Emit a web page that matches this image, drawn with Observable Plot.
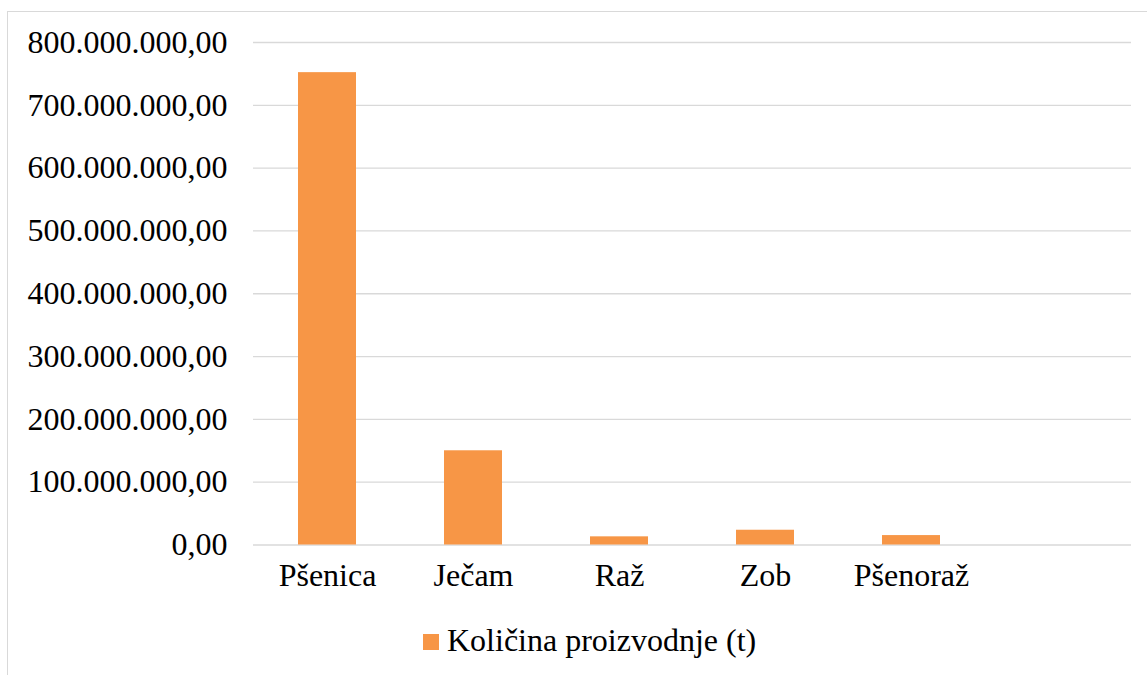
<!DOCTYPE html>
<html>
<head>
<meta charset="utf-8">
<script src="https://cdn.jsdelivr.net/npm/d3@7"></script>
<script src="https://cdn.jsdelivr.net/npm/@observablehq/plot@0.6"></script>
<style>
  html, body { margin: 0; padding: 0; background: #fff; }
  body { width: 1147px; height: 675px; overflow: hidden; position: relative; font-family: "Liberation Serif", "Times New Roman", serif; }
  #frame { position: absolute; left: 7px; top: 11px; width: 1160px; height: 700px; border-left: 1px solid #d9d9d9; border-top: 1px solid #d9d9d9; }
  #chart { position: absolute; left: 0; top: 0; }
  #legend { position: absolute; left: 423px; top: 622px; display: flex; align-items: center; font-size: 32px; color: #000; white-space: nowrap; }
  #legend .sw { width: 16px; height: 16px; background: #F79646; margin-right: 8px; margin-top: 3px; }
</style>
</head>
<body>
<div id="frame"></div>
<div id="chart"></div>
<div id="legend"><span class="sw"></span><span>Količina proizvodnje (t)</span></div>
<script>
const categories = ["Pšenica", "Ječam", "Raž", "Zob", "Pšenoraž", ""];
const values = [752000000, 150000000, 13000000, 23500000, 15000000];
const yTicks = [0, 100000000, 200000000, 300000000, 400000000, 500000000, 600000000, 700000000, 800000000];
const seriesName = "Količina proizvodnje (t)";

const data = values.map((v, i) => ({category: categories[i], value: v}));
const loc = d3.formatLocale({decimal: ",", thousands: ".", grouping: [3], currency: ["", ""]});
const fmt = loc.format(",.2f");
const font = "Liberation Serif, Times New Roman, serif";

const chart = Plot.plot({
  width: 1147,
  height: 610,
  marginLeft: 253,
  marginRight: 16,
  marginTop: 42,
  marginBottom: 65.5,
  x: {domain: categories, paddingInner: 0.6, paddingOuter: 0.3, align: 0.5, label: null},
  y: {domain: [0, 800000000], label: null},
  marks: [
    Plot.ruleY(yTicks, {stroke: "#d9d9d9", strokeWidth: 1.3}),
    Plot.barY(data, {x: "category", y: "value", fill: "#F79646"}),
    Plot.axisY({ticks: yTicks, tickFormat: fmt, tickSize: 0, tickPadding: 26, fontSize: 32, fontFamily: font, fill: "#000", label: null}),
    Plot.axisX({tickSize: 0, tickPadding: 18, fontSize: 32, fontFamily: font, fill: "#000", label: null})
  ],
  style: {background: "transparent", color: "#000"}
});
document.getElementById("chart").appendChild(chart);
</script>
</body>
</html>
